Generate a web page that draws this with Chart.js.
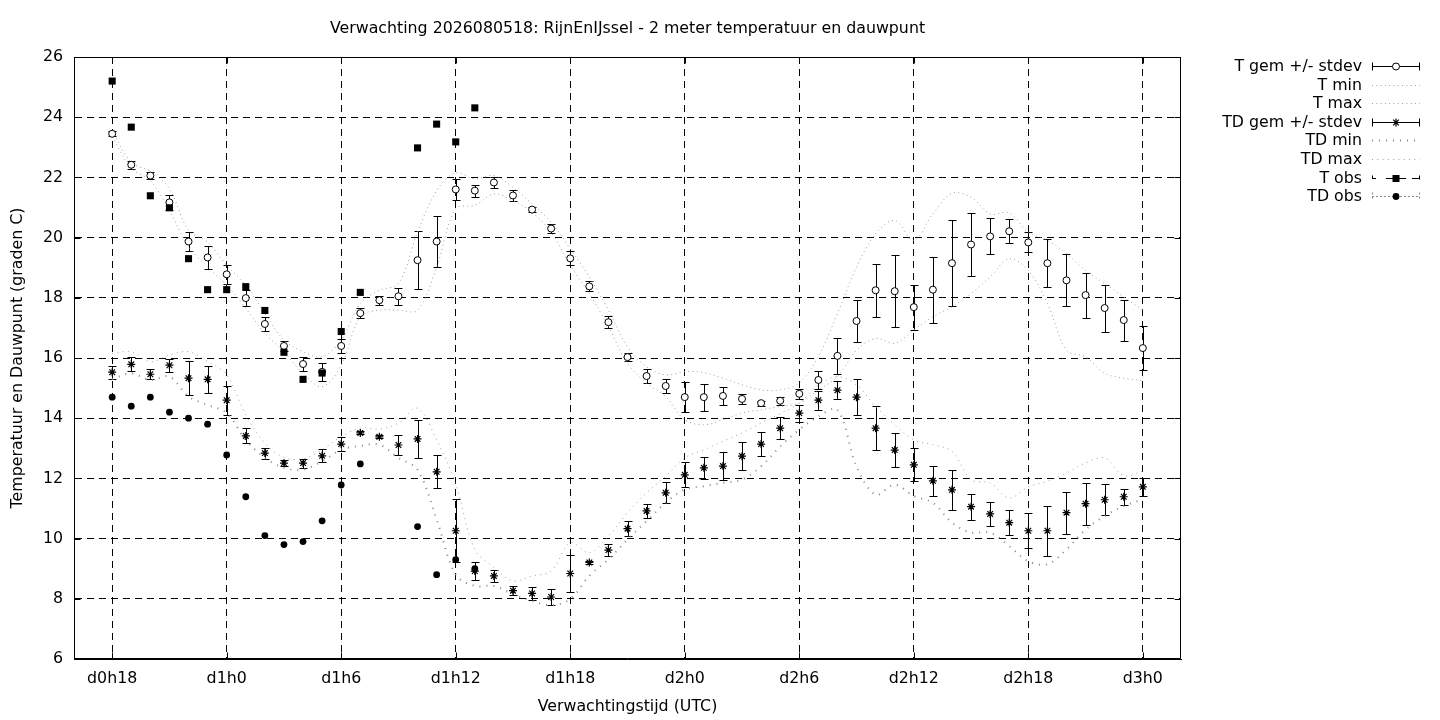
<!DOCTYPE html>
<html>
<head>
<meta charset="utf-8">
<script src="https://cdn.jsdelivr.net/npm/chart.js@4.4.1/dist/chart.umd.min.js"></script>
<style>
html,body{margin:0;padding:0;background:#fff;}
canvas{display:block;}
</style>
</head>
<body>
<canvas id="c" width="1440" height="720"></canvas>
<script>
const titleText = 'Verwachting 2026080518: RijnEnIJssel - 2 meter temperatuur en dauwpunt';
const xTitle = 'Verwachtingstijd (UTC)';
const yTitle = 'Temperatuur en Dauwpunt (graden C)';

const hours = [18,19,20,21,22,23,24,25,26,27,28,29,30,31,32,33,34,35,36,37,38,39,40,41,42,43,44,45,46,47,48,49,50,51,52,53,54,55,56,57,58,59,60,61,62,63,64,65,66,67,68,69,70,71,72];
const tickHours = [18,24,30,36,42,48,54,60,66,72];
const tickLabels = ['d0h18','d1h0','d1h6','d1h12','d1h18','d2h0','d2h6','d2h12','d2h18','d3h0'];

const tMean = [23.45,22.42,22.06,21.17,19.87,19.34,18.78,17.99,17.13,16.40,
  15.80,15.54,16.40,17.49,17.92,18.05,19.25,19.87,21.60,21.56,
  21.83,21.40,20.93,20.30,19.31,18.38,17.19,16.03,15.40,15.07,
  14.70,14.70,14.74,14.64,14.50,14.58,14.81,15.27,16.07,17.23,
  18.25,18.22,17.69,18.27,19.15,19.77,20.04,20.21,19.84,19.15,
  18.58,18.09,17.66,17.26,16.33];
const tStd = [0.09,0.13,0.12,0.25,0.31,0.38,0.32,0.26,0.22,0.16,
  0.22,0.30,0.24,0.16,0.15,0.28,0.96,0.86,0.35,0.20,
  0.19,0.17,0.09,0.16,0.23,0.17,0.20,0.14,0.23,0.23,
  0.50,0.45,0.29,0.18,0.08,0.13,0.17,0.31,0.60,0.70,
  0.88,1.20,0.75,1.10,1.42,1.05,0.60,0.40,0.33,0.80,
  0.86,0.75,0.78,0.68,0.72];
const tMin = [23.35,22.31,21.89,20.90,19.70,19.02,18.42,17.65,16.82,16.20,
  15.49,15.05,15.75,17.37,17.59,17.59,17.59,19.02,20.96,21.07,
  21.45,21.23,20.84,20.18,19.08,18.14,17.04,15.82,15.16,14.72,
  13.95,13.78,13.95,14.17,14.28,14.39,14.50,14.94,15.38,16.26,
  16.65,16.49,16.93,17.37,17.70,18.14,18.69,19.30,18.91,17.81,
  16.26,16.04,15.49,15.33,15.25];
const tMax = [23.55,22.50,22.20,21.62,20.24,19.85,19.08,18.42,17.48,16.60,
  16.21,16.04,16.60,17.81,18.25,18.47,20.18,21.56,22.15,21.95,
  22.06,21.67,21.12,20.51,19.63,18.69,17.59,16.37,15.71,15.44,
  15.55,15.51,15.33,15.11,14.94,14.94,15.17,16.04,17.48,19.02,
  20.13,20.57,19.91,20.79,21.47,21.34,20.79,20.82,20.18,19.91,
  19.47,18.91,18.47,18.03,17.59];

const tdMean = [15.53,15.79,15.46,15.76,15.33,15.29,14.60,13.41,12.84,12.51,
  12.51,12.75,13.14,13.51,13.38,13.11,13.31,12.22,10.26,8.92,
  8.76,8.27,8.18,8.06,8.84,9.21,9.62,10.33,10.92,11.52,
  12.12,12.35,12.41,12.74,13.14,13.67,14.17,14.60,14.93,14.70,
  13.67,12.94,12.45,11.92,11.62,11.06,10.82,10.53,10.26,10.26,
  10.86,11.16,11.29,11.39,11.72];
const tdStd = [0.22,0.23,0.17,0.22,0.57,0.46,0.48,0.25,0.18,0.11,
  0.15,0.22,0.24,0.05,0.05,0.33,0.64,0.55,1.05,0.29,
  0.19,0.15,0.21,0.27,0.60,0.06,0.20,0.26,0.24,0.35,
  0.41,0.37,0.47,0.46,0.40,0.36,0.28,0.32,0.29,0.61,
  0.72,0.56,0.55,0.50,0.66,0.43,0.40,0.41,0.58,0.83,
  0.70,0.70,0.51,0.27,0.30];
const tdMin = [15.30,15.49,15.27,15.38,14.72,14.44,14.17,13.28,12.68,12.35,
  12.29,12.57,12.95,13.08,13.12,12.68,12.29,10.64,8.80,8.43,
  8.43,8.15,7.93,7.79,7.99,8.76,9.31,9.97,10.58,11.19,
  11.63,11.74,11.85,11.96,12.40,13.06,13.62,14.06,14.28,12.40,
  11.46,11.79,11.41,11.19,10.53,10.20,10.20,9.75,9.25,9.15,
  9.64,10.30,10.75,11.08,11.30];
const tdMax = [16.15,16.21,15.88,16.10,16.21,15.88,15.44,14.11,13.17,12.70,
  12.65,12.95,13.39,13.67,13.64,13.84,14.33,13.28,11.80,9.64,
  9.04,8.59,8.76,8.92,9.86,9.53,10.08,10.86,11.52,12.07,
  12.68,12.95,13.23,13.51,13.84,14.15,14.50,15.10,15.38,15.10,
  14.39,13.78,13.28,13.12,12.90,11.96,11.85,11.35,11.72,11.90,
  12.18,12.51,12.68,12.09,12.24];

const obsHours = [18,19,20,21,22,23,24,25,26,27,28,29,30,31,32,33,34,35,36,37];
const tObs = [25.20,23.67,21.39,20.99,19.30,18.27,18.27,18.37,17.58,16.19,
  15.29,15.50,16.88,18.18,null,null,22.98,23.77,23.18,24.31];
const tdObs = [14.70,14.40,14.70,14.20,14.00,13.80,12.78,11.39,10.10,9.80,
  9.90,10.59,11.78,12.48,null,null,10.40,8.80,9.30,9.00];

const pts = (xs, arr) => xs.map((h, i) => ({x: h, y: arr[i]}));
const FONT = '"DejaVu Sans", sans-serif';
const FSIZE = 15.8;
const GREY = '#a0a0a0';

const datasets = [
  {label: 'T gem +/- stdev', kind: 'err', data: pts(hours, tMean), errors: tStd, showLine: false,
   pointStyle: 'circle', pointRadius: 3.5, pointBackgroundColor: '#fff', pointBorderColor: '#000', pointBorderWidth: 1, order: 2},
  {label: 'T min', kind: 'line', data: pts(hours, tMin), showLine: true, pointRadius: 0,
   borderColor: GREY, borderWidth: 1, borderDash: [1, 3.3], tension: 0.35, order: 12},
  {label: 'T max', kind: 'line', data: pts(hours, tMax), showLine: true, pointRadius: 0,
   borderColor: GREY, borderWidth: 1, borderDash: [1, 3.3], tension: 0.35, order: 12},
  {label: 'TD gem +/- stdev', kind: 'err', data: pts(hours, tdMean), errors: tdStd, showLine: false,
   pointStyle: 'star', pointRadius: 4, pointBackgroundColor: '#000', pointBorderColor: '#000', pointBorderWidth: 1.2, order: 3},
  {label: 'TD min', kind: 'line', data: pts(hours, tdMin), showLine: true, pointRadius: 0,
   borderColor: '#888888', borderWidth: 2, borderDash: [1, 6], tension: 0.35, order: 12},
  {label: 'TD max', kind: 'line', data: pts(hours, tdMax), showLine: true, pointRadius: 0,
   borderColor: GREY, borderWidth: 1, borderDash: [1, 4.3], tension: 0.35, order: 12},
  {label: 'T obs', kind: 'tobs', data: pts(obsHours, tObs), showLine: false,
   pointStyle: 'rect', pointRadius: 5, pointBackgroundColor: '#000', pointBorderColor: '#000', pointBorderWidth: 0, order: 0},
  {label: 'TD obs', kind: 'tdobs', data: pts(obsHours, tdObs), showLine: false,
   pointStyle: 'circle', pointRadius: 3.4, pointBackgroundColor: '#000', pointBorderColor: '#000', pointBorderWidth: 0, order: 1}
];

const errPlugin = {
  id: 'errbars',
  beforeDatasetsDraw(chart) {
    const {ctx, scales: {x, y}} = chart;
    ctx.save();
    ctx.strokeStyle = '#000';
    ctx.lineWidth = 1;
    chart.data.datasets.forEach(ds => {
      if (!ds.errors) return;
      ds.data.forEach((p, i) => {
        const e = ds.errors[i];
        if (p.y == null || e == null) return;
        const px = Math.round(x.getPixelForValue(p.x)) + 0.5;
        const y1 = Math.round(y.getPixelForValue(p.y - e)) + 0.5;
        const y2 = Math.round(y.getPixelForValue(p.y + e)) + 0.5;
        ctx.beginPath();
        ctx.moveTo(px, y1); ctx.lineTo(px, y2);
        ctx.moveTo(px - 4, y1); ctx.lineTo(px + 4, y1);
        ctx.moveTo(px - 4, y2); ctx.lineTo(px + 4, y2);
        ctx.stroke();
      });
    });
    ctx.restore();
  }
};

const framePlugin = {
  id: 'frame',
  afterDraw(chart) {
    const {ctx, chartArea: ca, scales: {x, y}} = chart;
    ctx.save();
    ctx.strokeStyle = '#000';
    ctx.lineWidth = 1;
    const L = Math.round(ca.left) + 0.5, R = Math.round(ca.right) - 0.5;
    const T = Math.round(ca.top) + 0.5, B = Math.round(ca.bottom) - 0.5;
    ctx.beginPath();
    ctx.rect(L, T, R - L, B - T);
    ctx.stroke();
    ctx.beginPath();
    y.ticks.forEach(t => {
      const py = Math.round(y.getPixelForValue(t.value)) + 0.5;
      ctx.moveTo(L, py); ctx.lineTo(L + 6, py);
      ctx.moveTo(R, py); ctx.lineTo(R - 6, py);
    });
    x.ticks.forEach(t => {
      const px = Math.round(x.getPixelForValue(t.value)) + 0.5;
      ctx.moveTo(px, B); ctx.lineTo(px, B - 6);
      ctx.moveTo(px, T); ctx.lineTo(px, T + 6);
    });
    ctx.stroke();

    ctx.fillStyle = '#000';
    ctx.font = FSIZE + 'px ' + FONT;
    ctx.textAlign = 'center';
    ctx.textBaseline = 'middle';
    ctx.fillText(titleText, (ca.left + ca.right) / 2, 29);

    const tx = 1362, s0 = 1372, s1 = 1420, sc = 1396;
    chart.data.datasets.forEach((ds, i) => {
      const ry = Math.round(66 + i * 18.6) + 0.5;
      ctx.fillStyle = '#000';
      ctx.textAlign = 'right';
      ctx.fillText(ds.label, tx, ry);
      ctx.save();
      if (ds.kind === 'err') {
        ctx.strokeStyle = '#000'; ctx.lineWidth = 1;
        ctx.beginPath();
        ctx.moveTo(s0, ry); ctx.lineTo(s1, ry);
        ctx.moveTo(s0 + 0.5, ry - 4); ctx.lineTo(s0 + 0.5, ry + 4);
        ctx.moveTo(s1 - 0.5, ry - 4); ctx.lineTo(s1 - 0.5, ry + 4);
        ctx.stroke();
        if (ds.pointStyle === 'circle') {
          ctx.fillStyle = '#fff';
          ctx.beginPath();
          ctx.arc(sc, ry, 3.5, 0, Math.PI * 2); ctx.fill(); ctx.stroke();
        } else {
          ctx.lineWidth = 1.2;
          Chart.helpers.drawPoint(ctx, {pointStyle: ds.pointStyle, radius: ds.pointRadius, borderWidth: 1.2, rotation: 0}, sc, ry);
        }
      } else if (ds.kind === 'line') {
        ctx.strokeStyle = ds.borderColor; ctx.lineWidth = ds.borderWidth;
        ctx.setLineDash(ds.borderDash);
        ctx.beginPath(); ctx.moveTo(s0, ry); ctx.lineTo(s1, ry); ctx.stroke();
      } else if (ds.kind === 'tobs') {
        ctx.strokeStyle = '#000'; ctx.lineWidth = 1;
        ctx.beginPath();
        ctx.moveTo(s0, ry); ctx.lineTo(s0 + 4, ry);
        ctx.moveTo(s0 + 14, ry); ctx.lineTo(s1 - 14, ry);
        ctx.moveTo(s1 - 8, ry); ctx.lineTo(s1, ry);
        ctx.moveTo(s0 + 0.5, ry - 3); ctx.lineTo(s0 + 0.5, ry);
        ctx.moveTo(s1 - 0.5, ry - 3); ctx.lineTo(s1 - 0.5, ry + 1);
        ctx.stroke();
        ctx.fillStyle = '#000';
        ctx.fillRect(sc - 3.5, ry - 3.5, 7, 7);
      } else if (ds.kind === 'tdobs') {
        ctx.strokeStyle = '#888'; ctx.lineWidth = 1;
        ctx.setLineDash([2, 2]);
        ctx.beginPath();
        ctx.moveTo(s0, ry); ctx.lineTo(s1, ry);
        ctx.moveTo(s0 + 0.5, ry - 4); ctx.lineTo(s0 + 0.5, ry + 4);
        ctx.moveTo(s1 - 0.5, ry - 4); ctx.lineTo(s1 - 0.5, ry + 4);
        ctx.stroke();
        ctx.setLineDash([]);
        ctx.fillStyle = '#000';
        ctx.beginPath(); ctx.arc(sc, ry, 3.4, 0, Math.PI * 2); ctx.fill();
      }
      ctx.restore();
    });
    ctx.restore();
  }
};

Chart.defaults.font.family = FONT;
Chart.defaults.font.size = FSIZE;
Chart.defaults.color = '#000';

new Chart(document.getElementById('c'), {
  type: 'line',
  data: {datasets},
  options: {
    responsive: false,
    animation: false,
    devicePixelRatio: 1,
    layout: {padding: {left: 0, right: 259, top: 57, bottom: 0}},
    plugins: {legend: {display: false}, tooltip: {enabled: false}, title: {display: false}},
    scales: {
      x: {
        type: 'linear', min: 16, max: 74,
        afterBuildTicks: s => { s.ticks = tickHours.map(v => ({value: v})); },
        afterFit: s => { s.height = 61; },
        ticks: {padding: 10, maxRotation: 0, autoSkip: false,
          callback: v => tickLabels[tickHours.indexOf(v)]},
        grid: {color: '#000', lineWidth: 1, drawTicks: false},
        border: {display: true, color: '#000', dash: [7, 5]},
        title: {display: true, text: xTitle, padding: {top: 0, bottom: 3.4}}
      },
      y: {
        type: 'linear', min: 6, max: 26,
        afterFit: s => { s.width = 74; },
        ticks: {stepSize: 2, padding: 11},
        grid: {color: '#000', lineWidth: 1, drawTicks: false},
        border: {display: true, color: '#000', dash: [7, 5]},
        title: {display: true, text: yTitle, padding: {top: 8, bottom: 0}}
      }
    }
  },
  plugins: [errPlugin, framePlugin]
});
</script>
</body>
</html>
